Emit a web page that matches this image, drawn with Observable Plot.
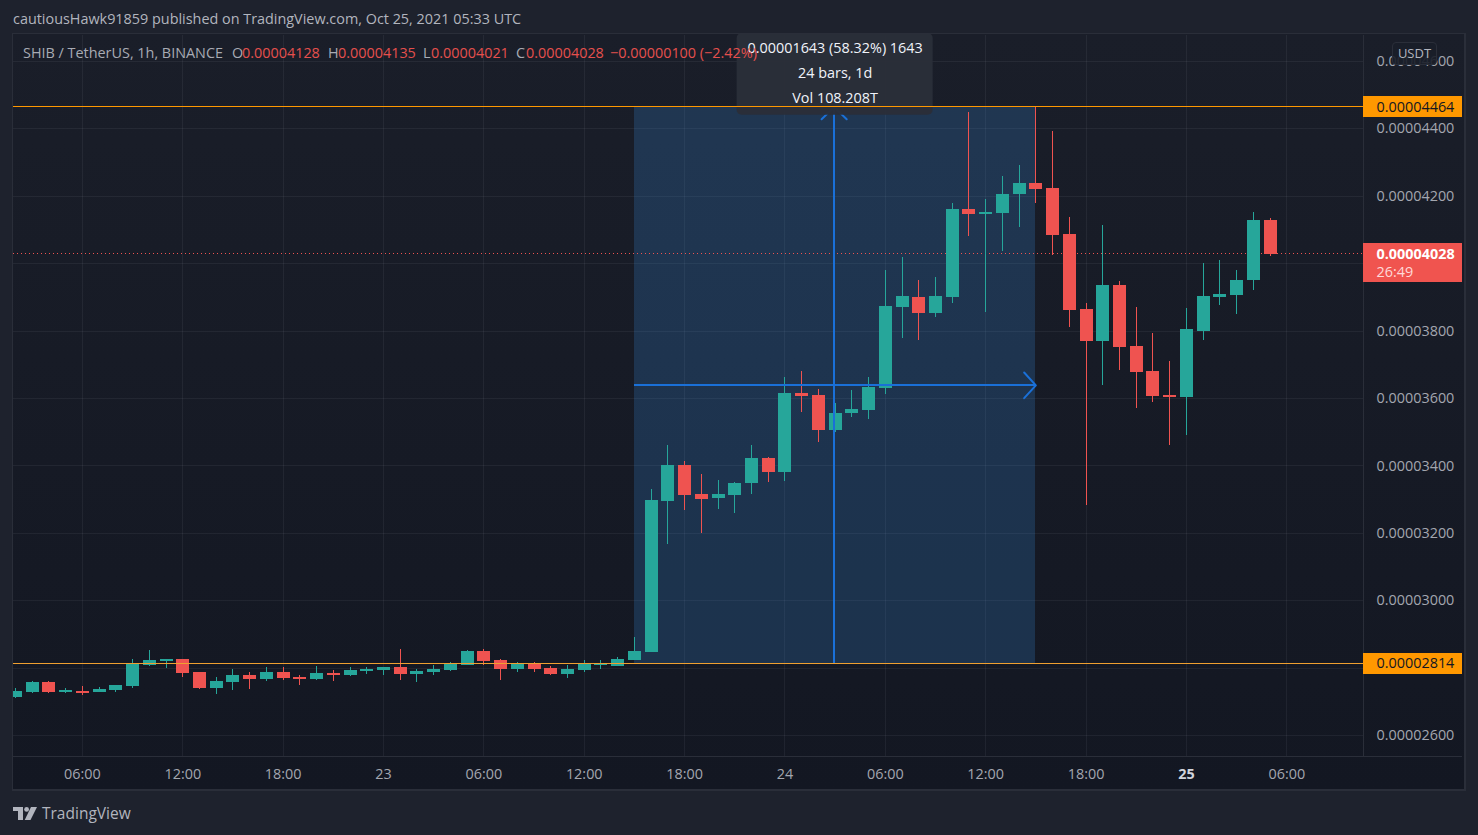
<!DOCTYPE html>
<html><head><meta charset="utf-8">
<script src="https://cdn.jsdelivr.net/npm/d3@7"></script>
<script src="https://cdn.jsdelivr.net/npm/@observablehq/plot@0.6"></script>
<style>
html,body{margin:0;padding:0;background:#1e222d;width:1478px;height:835px;overflow:hidden;font-family:"Open Sans",sans-serif}
#title{position:absolute;left:13px;top:9px;font-size:14.4px;color:#b2b5be;white-space:nowrap}
#pane{position:absolute;left:12px;top:33px;width:1451px;height:755px;border:1px solid #2a2e39;border-width:1px 2px 2px 1px;background:linear-gradient(#1a1e29,#131722)}
#chart{position:absolute;left:13px;top:33px}
#legend span{position:absolute;top:43px;font-size:14.4px;white-space:nowrap;color:#a8abb4}
#legend span.r{color:#e5504d}
#usdt{position:absolute;left:1392px;top:42px;width:43px;height:21px;line-height:21px;text-align:center;font-size:13px;color:#b2b5be;background:rgba(26,30,41,.9);border:1px solid #2a2e39;border-radius:4px}
#brand{position:absolute;left:13px;top:805px;height:16px;display:flex;align-items:center;gap:5px;font-size:15.5px;color:#b2b5be}
</style></head><body>
<div id="title">cautiousHawk91859 published on TradingView.com, Oct 25, 2021 05:33 UTC</div>
<div id="pane"></div>
<div id="chart"></div>
<div id="legend">
<span style="left:23px">SHIB / TetherUS, 1h, BINANCE</span>
<span style="left:232px">O</span><span class="r" style="left:242px">0.00004128</span>
<span style="left:328px">H</span><span class="r" style="left:338px">0.00004135</span>
<span style="left:423px">L</span><span class="r" style="left:431px">0.00004021</span>
<span style="left:516px">C</span><span class="r" style="left:526px">0.00004028</span>
<span class="r" style="left:610px">−0.00000100 (−2.42%)</span>
</div>
<div id="usdt">USDT</div>
<div id="brand"><svg width="24" height="13" viewBox="0 0 24 13"><path fill="#b2b5be" d="M0 0h10v13H5V4H0z"/><circle cx="13.6" cy="2.4" r="2.4" fill="#b2b5be"/><path fill="#b2b5be" d="M18 0h6l-6.5 13H11.7z"/></svg><span>TradingView</span></div>
<script>
// Prices in units of 0.00000001 USDT, hourly bars from Oct 22 2021 02:00 UTC
const opens=[2714,2728,2758,2728,2731,2728,2734,2746,2808,2820,2826,2788,2740,2758,2779,2767,2788,2773,2767,2785,2779,2791,
2794,2803,2782,2788,2794,2809,2850,2823,2797,2814,2800,2782,2794,2809,2806,2823,2847,3295,3402,3316,3304,3313,3348,3422,
3381,3615,3609,3505,3556,3565,3630,3870,3900,3852,3900,4161,4146,4149,4205,4238,4223,4087,3864,3769,3935,3754,3680,3609,
3603,3799,3900,3906,3950,4128];
const closes=[2731,2758,2728,2734,2728,2737,2749,2811,2823,2826,2785,2740,2761,2779,2767,2788,2770,2767,2785,2779,2794,2797,
2803,2782,2791,2797,2811,2850,2820,2797,2814,2797,2782,2797,2811,2814,2826,2850,3298,3402,3313,3301,3316,3348,3422,3381,
3615,3606,3505,3556,3568,3633,3873,3903,3852,3903,4161,4146,4152,4205,4238,4220,4084,3861,3769,3935,3751,3677,3606,3603,
3805,3903,3909,3950,4128,4028];
const highs=[2739,2761,2760,2740,2746,2743,2750,2826,2853,2827,2827,2788,2773,2797,2788,2803,2803,2779,2806,2794,2803,2803,
2803,2856,2797,2809,2817,2853,2856,2826,2817,2817,2806,2809,2823,2823,2832,2891,3330,3461,3413,3375,3357,3351,3461,3425,
3663,3680,3627,3585,3624,3663,3980,4018,3950,3959,4178,4448,4190,4259,4291,4464,4392,4137,3882,4113,3947,3870,3793,3710,
3867,4001,4009,3980,4152,4135];
const lows=[2711,2726,2726,2726,2720,2727,2728,2740,2805,2800,2773,2737,2722,2734,2737,2761,2764,2749,2764,2761,2776,2782,
2779,2764,2758,2779,2791,2808,2809,2764,2788,2788,2779,2770,2788,2797,2805,2823,2846,3167,3268,3200,3271,3259,3316,3351,
3354,3559,3470,3499,3544,3538,3612,3778,3772,3840,3882,4081,3855,4036,4107,4178,4024,3811,3283,3638,3683,3570,3588,3461,
3490,3772,3876,3849,3920,4021];
const priceTicks=[2600,2800,3000,3200,3400,3600,3800,4000,4200,4400,4600];
const priceLabels=[2600,3000,3200,3400,3600,3800,4200,4400,4600];
const hourTicks=[Date.UTC(2021,9,22,6),Date.UTC(2021,9,22,12),Date.UTC(2021,9,22,18),Date.UTC(2021,9,23,0),Date.UTC(2021,9,23,6),Date.UTC(2021,9,23,12),Date.UTC(2021,9,23,18),Date.UTC(2021,9,24,0),Date.UTC(2021,9,24,6),Date.UTC(2021,9,24,12),Date.UTC(2021,9,24,18),Date.UTC(2021,9,25,6)].map(t=>new Date(t));
const boldTick=[new Date(Date.UTC(2021,9,25,0))];
const rangeLow=2814, rangeHigh=4464, lastPrice=4028;
const rangeStart=new Date(Date.UTC(2021,9,23,15)), rangeEnd=new Date(Date.UTC(2021,9,24,15));
const H=3600000, T0=Date.UTC(2021,9,22,2);
const bars=opens.map((o,i)=>({t:new Date(T0+i*H),o,c:closes[i],h:highs[i],l:lows[i]}));
const up="#26a69a",down="#ef5350",axisText="#a3a6af",grid="rgba(240,243,250,0.06)",blue="#1a70d8",orange="#ff9800";
const fmtPrice=p=>(p/1e8).toFixed(8);
const xStart=new Date(Date.UTC(2021,9,22,1,52,47)), xEnd=new Date(Date.UTC(2021,9,25,10,35,14));
const xOut=new Date(+xEnd+H*5.92);
const midT=new Date((+rangeStart+ +rangeEnd)/2), midP=(rangeLow+rangeHigh)/2;
const fmtT=d=>d.getUTCHours()===0?String(d.getUTCDate()):d3.utcFormat("%H:%M")(d);
const font="Open Sans";
const crisp={shapeRendering:"crispEdges"};
const fs=14.4;
const plot=Plot.plot({
  width:1452,height:757,marginLeft:0,marginRight:102,marginTop:2,marginBottom:34,
  style:{background:"transparent",fontFamily:font,fontSize:"14.4px",overflow:"hidden"},
  x:{type:"utc",domain:[xStart,xEnd],axis:null},
  y:{domain:[2538.3,4676.4],axis:null},
  color:{type:"identity"},
  marks:[
    Plot.ruleX(hourTicks.concat(boldTick),{stroke:grid,...crisp}),
    Plot.ruleY(priceTicks,{stroke:grid,...crisp}),
    Plot.rect([0],{x1:rangeStart,x2:rangeEnd,y1:rangeLow,y2:rangeHigh,fill:"#3c9bf5",fillOpacity:.2,...crisp}),
    Plot.ruleY([lastPrice],{stroke:down,strokeDasharray:"1,3",dy:-0.5,...crisp}),
    Plot.ruleX(bars,{x:"t",y1:"l",y2:"h",stroke:d=>d.c>=d.o?up:down,strokeWidth:1,...crisp}),
    Plot.ruleX(bars,{x:"t",y1:"o",y2:d=>Math.abs(d.c-d.o)<6?d.o+(d.c>=d.o?6:-6):d.c,stroke:d=>d.c>=d.o?up:down,strokeWidth:13,...crisp}),
    Plot.ruleX([midT],{y1:rangeLow,y2:rangeHigh,stroke:blue,strokeWidth:2,dx:-1,...crisp}),
    Plot.ruleY([midP],{x1:rangeStart,x2:rangeEnd,stroke:blue,strokeWidth:2,...crisp}),
    Plot.line([{t:+rangeEnd-0.7*H,p:midP+38},{t:+rangeEnd,p:midP},{t:+rangeEnd-0.7*H,p:midP-38}],{x:d=>new Date(d.t),y:"p",stroke:blue,strokeWidth:2}),
    Plot.line([{t:+midT-0.75*H,p:rangeHigh-36},{t:+midT,p:rangeHigh},{t:+midT+0.75*H,p:rangeHigh-36}],{x:d=>new Date(d.t),y:"p",stroke:blue,strokeWidth:2,dx:-1}),
    Plot.rect([0],{x1:new Date(+midT-5.86*H),x2:new Date(+midT+5.86*H),y1:4440,y2:4682,fill:"#2a2e39",fillOpacity:.97,rx:5}),
    Plot.text(["0.00001643 (58.32%) 1643"],{x:midT,frameAnchor:"top",lineAnchor:"middle",dy:13,fill:"#f0f3fa",fontSize:fs}),
    Plot.text(["24 bars, 1d"],{x:midT,frameAnchor:"top",lineAnchor:"middle",dy:38,fill:"#f0f3fa",fontSize:fs}),
    Plot.text(["Vol 108.208T"],{x:midT,frameAnchor:"top",lineAnchor:"middle",dy:63,fill:"#f0f3fa",fontSize:fs}),
    Plot.ruleY([rangeHigh],{stroke:orange,dy:-1,...crisp}),
    Plot.ruleY([rangeLow],{stroke:"#f0a030",...crisp}),
    Plot.ruleX([xEnd],{stroke:"#2a2e39",...crisp}),
    Plot.ruleY([2538.3],{stroke:"#2a2e39",x2:xOut,...crisp}),
    Plot.axisY({anchor:"right",ticks:priceLabels,tickSize:0,tickPadding:13,tickFormat:fmtPrice,label:null,fill:axisText,fontSize:fs}),
    Plot.axisX({anchor:"bottom",ticks:hourTicks,tickSize:0,tickPadding:12,tickFormat:fmtT,label:null,fill:axisText,fontSize:fs}),
    Plot.axisX({anchor:"bottom",ticks:boldTick,tickSize:0,tickPadding:12,tickFormat:fmtT,label:null,fill:"#d1d4dc",fontSize:fs,fontWeight:"bold"}),
    Plot.ruleY([rangeHigh],{x1:xEnd,x2:xOut,stroke:orange,strokeWidth:21,dy:-1,...crisp}),
    Plot.ruleY([rangeLow],{x1:xEnd,x2:xOut,stroke:orange,strokeWidth:21,...crisp}),
    Plot.ruleY([lastPrice],{x1:xEnd,x2:xOut,stroke:"#f0544f",strokeWidth:39,dy:8.5,...crisp}),
    Plot.text([rangeHigh,rangeLow],{x:xEnd,y:d=>d,text:fmtPrice,dx:13,textAnchor:"start",fill:"#131722",fontSize:fs}),
    Plot.text([lastPrice],{x:xEnd,y:d=>d,text:fmtPrice,dx:13,textAnchor:"start",fill:"#ffffff",fontSize:fs,fontWeight:"bold"}),
    Plot.text(["26:49"],{x:xEnd,y:lastPrice,dx:13,dy:18,textAnchor:"start",fill:"#ffd9d8",fontSize:fs})
  ]
});
document.getElementById("chart").appendChild(plot);
</script>
</body></html>
